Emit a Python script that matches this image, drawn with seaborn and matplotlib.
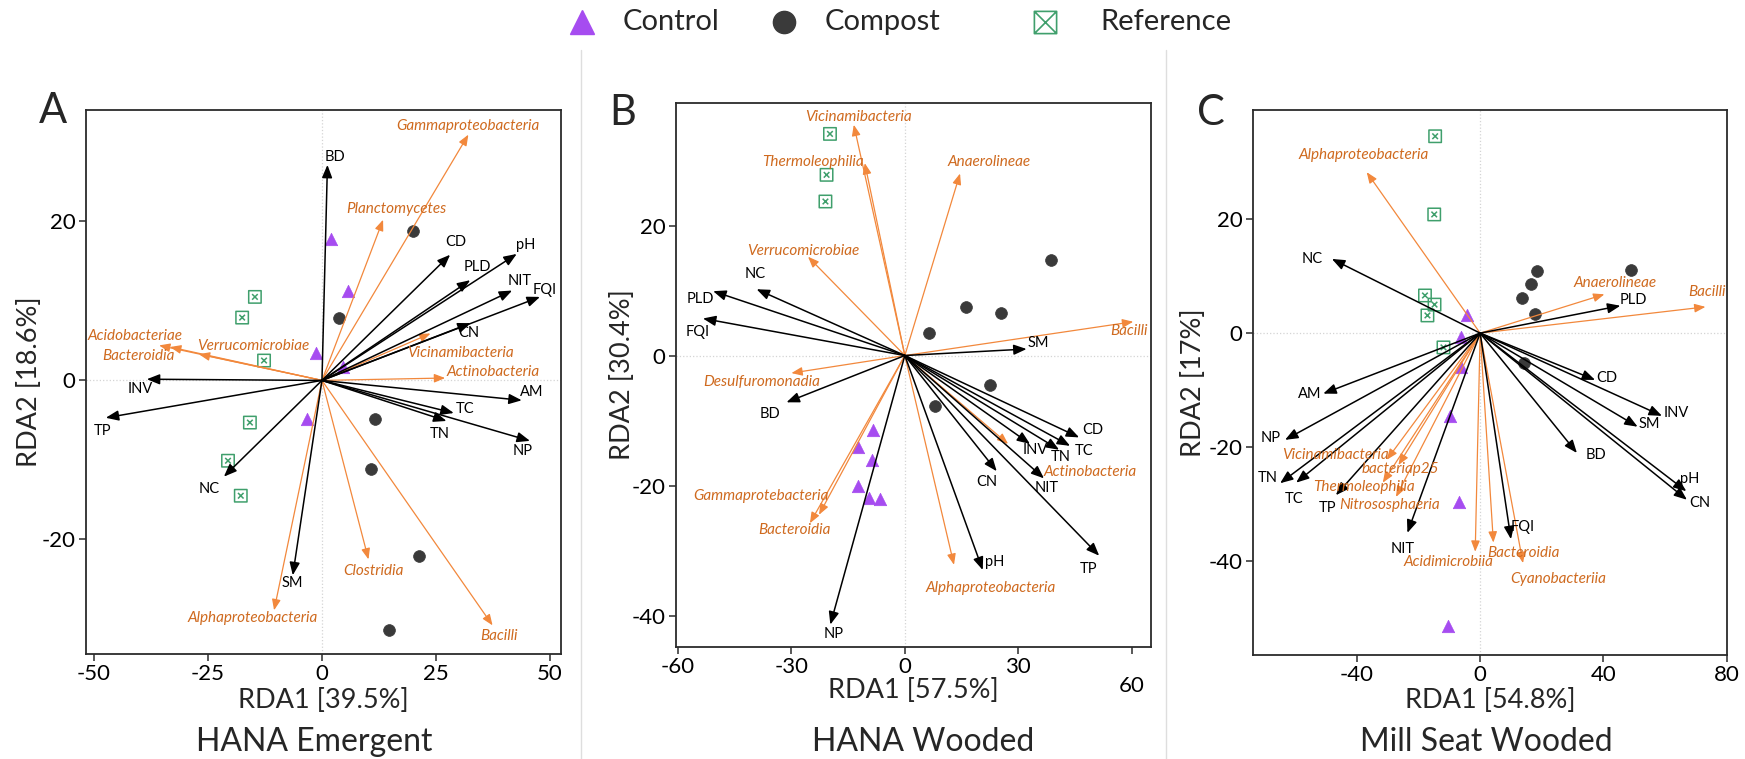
import numpy as np
import pandas as pd
import matplotlib
matplotlib.use("Agg")
import matplotlib.pyplot as plt
from matplotlib.path import Path
from matplotlib.lines import Line2D
import seaborn as sns

# ---------------- HANA Emergent ----------------
A_env = ["BD", "CD", "pH", "PLD", "NIT", "FQI", "CN", "AM", "TC", "TN", "NP", "INV", "TP", "NC", "SM"]
A_env_x = [1.2, 28.1, 42.7, 32.5, 41.7, 47.8, 32.6, 43.8, 28.9, 27.3, 45.6, -38.4, -47.4, -21.5, -6.4]
A_env_y = [27.1, 15.8, 15.9, 12.6, 11.3, 10.5, 7.2, -2.5, -4.1, -5.1, -7.6, 0.15, -4.7, -12.1, -24.5]
A_taxa = ["Gammaproteobacteria", "Planctomycetes", "Vicinamibacteria", "Actinobacteria",
          "Acidobacteriae", "Bacteroidia", "Verrucomicrobiae", "Alphaproteobacteria",
          "Clostridia", "Bacilli"]
A_taxa_x = [32.1, 13.4, 23.8, 27.0, -35.7, -33.3, -27.0, -10.5, 10.2, 37.4]
A_taxa_y = [30.9, 20.2, 5.9, 0.3, 4.4, 4.2, 3.3, -28.9, -22.5, -30.8]
A_site_group = ["Control"] * 5 + ["Compost"] * 6 + ["Reference"] * 6
A_site_x = [-1.2, -3.2, 2.0, 5.8, 4.7,
            20.0, 3.8, 11.6, 10.7, 21.2, 14.6,
            -14.7, -17.5, -12.7, -15.8, -20.6, -17.8]
A_site_y = [3.5, -4.8, 17.8, 11.3, 1.7,
            18.8, 7.9, -4.8, -11.2, -22.1, -31.4,
            10.5, 7.9, 2.5, -5.3, -10.1, -14.5]

# ---------------- HANA Wooded ----------------
B_env = ["PLD", "NC", "FQI", "BD", "NP", "SM", "CD", "TC", "TN", "INV", "NIT", "CN", "TP", "pH"]
B_env_x = [-50.7, -39.2, -53.4, -31.3, -19.7, 32.2, 46.1, 43.7, 40.8, 33.1, 36.8, 24.3, 51.4, 20.6]
B_env_y = [9.9, 10.2, 5.7, -7.2, -41.4, 1.0, -12.6, -13.9, -14.5, -13.6, -18.9, -17.8, -30.8, -33.0]
B_taxa = ["Vicinamibacteria", "Thermoleophilia", "Verrucomicrobiae", "Desulfuromonadia",
          "Anaerolineae", "Bacilli", "Gammaprotebacteria", "Bacteroidia",
          "Actinobacteria", "Alphaproteobacteria"]
B_taxa_x = [-13.5, -10.6, -25.6, -30.0, 14.6, 60.4, -22.7, -25.1, 27.3, 13.0]
B_taxa_y = [35.5, 29.6, 15.2, -2.7, 28.0, 5.2, -24.5, -25.8, -13.6, -32.2]
B_site_group = ["Control"] * 6 + ["Compost"] * 6 + ["Reference"] * 3
B_site_x = [-8.4, -12.5, -8.7, -12.5, -9.5, -6.6,
            38.6, 16.1, 25.3, 6.4, 22.5, 7.9,
            -19.8, -20.7, -21.0]
B_site_y = [-11.4, -14.0, -16.0, -20.0, -21.9, -22.1,
            14.7, 7.5, 6.6, 3.5, -4.5, -7.8,
            34.1, 27.8, 23.7]

# ---------------- Mill Seat Wooded ----------------
C_env = ["NC", "AM", "NP", "TN", "TC", "TP", "NIT", "FQI", "BD", "SM", "INV", "pH", "CN", "CD", "PLD"]
C_env_x = [-48.1, -50.9, -63.3, -64.9, -59.7, -46.8, -23.6, 10.0, 31.4, 51.1, 59.0, 66.9, 67.1, 37.3, 45.5]
C_env_y = [13.0, -10.6, -18.7, -26.3, -26.2, -28.4, -35.0, -36.1, -21.0, -16.4, -14.5, -27.7, -29.2, -8.2, 4.8]
C_taxa = ["Alphaproteobacteria", "Anaerolineae", "Bacilli", "Vicinamibacteria", "bacteriap25",
          "Thermoleophilia", "Nitrososphaeria", "Acidimicrobiia", "Bacteroidia", "Cyanobacteriia"]
C_taxa_x = [-36.8, 40.3, 73.1, -30.3, -26.5, -31.6, -27.3, -1.6, 4.3, 13.9]
C_taxa_y = [28.2, 6.8, 4.6, -22.2, -23.1, -26.2, -28.7, -38.3, -36.7, -40.3]
C_site_group = ["Control"] * 6 + ["Compost"] * 6 + ["Reference"] * 6
C_site_x = [-4.3, -6.2, -6.3, -9.7, -6.7, -10.3,
            18.4, 48.9, 16.5, 13.5, 17.9, 14.3,
            -14.6, -14.9, -17.9, -14.8, -17.1, -11.9]
C_site_y = [3.1, -0.75, -6.0, -14.5, -29.6, -51.4,
            10.9, 11.0, 8.6, 6.2, 3.4, -5.3,
            34.5, 20.8, 6.6, 5.0, 3.1, -2.5]

LEGEND_GROUPS = ["Control", "Compost", "Reference"]

# Label placement around arrow tips (pixel offsets, y up)
A_env_off = {"BD": (8, 8), "CD": (6, 13), "pH": (9, 9), "PLD": (7, 13), "NIT": (8, 10),
             "FQI": (5, 7), "CN": (-2, -10), "AM": (10, 8), "TC": (11, 4), "TN": (-7, -13),
             "NP": (-7, -10), "INV": (-7, -10), "TP": (-3, -13), "NC": (-15, -12), "SM": (0, -8)}
A_taxa_off = {"Gammaproteobacteria": (0, 9), "Planctomycetes": (13, 11), "Vicinamibacteria": (30, -20),
              "Actinobacteria": (48, 6), "Acidobacteriae": (-24, 9), "Bacteroidia": (-32, -9),
              "Verrucomicrobiae": (54, 8), "Alphaproteobacteria": (-21, -8), "Clostridia": (5, -12),
              "Bacilli": (6, -11)}
B_env_off = {"PLD": (-13, -8), "NC": (-1, 15), "FQI": (-5, -14), "BD": (-16, -12), "NP": (3, -9),
             "SM": (12, 6), "CD": (14, 7), "TC": (14, -5), "TN": (2, -7), "INV": (5, -6),
             "NIT": (3, -10), "CN": (-10, -11), "TP": (-11, -13), "pH": (12, 8)}
B_taxa_off = {"Vicinamibacteria": (5, 8), "Thermoleophilia": (-52, 1), "Verrucomicrobiae": (-5, 6),
              "Desulfuromonadia": (-30, -9), "Anaerolineae": (29, 12), "Bacilli": (-4, -9),
              "Gammaprotebacteria": (-58, 19), "Bacteroidia": (-15, -7), "Actinobacteria": (82, -28),
              "Alphaproteobacteria": (37, -23)}
C_env_off = {"NC": (-20, 0), "AM": (-14, 0), "NP": (-14, 2), "TN": (-12, 5), "TC": (-2, -16),
             "TP": (-8, -13), "NIT": (-5, -16), "FQI": (12, 12), "BD": (19, -2), "SM": (12, 3),
             "INV": (14, 3), "pH": (3, 12), "CN": (13, -3), "CD": (12, 2), "PLD": (13, 6)}
C_taxa_off = {"Alphaproteobacteria": (-3, 17), "Anaerolineae": (11, 11), "Bacilli": (2, 15),
              "Vicinamibacteria": (-51, 5), "bacteriap25": (2, -4), "Thermoleophilia": (-19, -4),
              "Nitrososphaeria": (-6, -8), "Acidimicrobiia": (-27, -10), "Bacteroidia": (30, -10),
              "Cyanobacteriia": (35, -16)}

PURPLE = "#a64cf0"
DARK = "#3a3a3a"
GREEN = "#3f9f6c"
ORANGE_LINE = "#f2883c"
ORANGE_TEXT = "#cf6a1f"
ZERO = "#d4d4d4"
SPINE = "#2b2b2b"

sns.set_theme(style="ticks")
plt.rcParams["font.family"] = ["Lato", "DejaVu Sans"]


def boxed_x(inner):
    verts = [(-1, -1), (1, -1), (1, 1), (-1, 1), (-1, -1),
             (-inner, -inner), (inner, inner), (-inner, inner), (inner, -inner)]
    codes = [Path.MOVETO, Path.LINETO, Path.LINETO, Path.LINETO, Path.CLOSEPOLY,
             Path.MOVETO, Path.LINETO, Path.MOVETO, Path.LINETO]
    return Path(verts, codes)


SITE_STYLE = {
    "Control": dict(marker="^", s=80, color=PURPLE, edgecolor=PURPLE, linewidth=0.5),
    "Compost": dict(marker="o", s=72, color=DARK, edgecolor=DARK, linewidth=0.5),
    "Reference": dict(marker=boxed_x(0.45), s=80, color=GREEN, facecolors="none",
                      edgecolor=GREEN, linewidth=1.1),
}

fig = plt.figure(figsize=(17.45, 7.59), dpi=100)
W, H = 1745.0, 759.0


def px_axes(left, top, right, bottom):
    return fig.add_axes([left / W, 1 - bottom / H, (right - left) / W, (bottom - top) / H])


def draw_panel(ax, sx, sy, sg, env, ex, ey, eoff, taxa, tx, ty, toff,
               xlim, ylim, xticks, yticks, xlabel, ylabel, ylab_x, xlab_y):
    ax.axhline(0, color=ZERO, lw=0.9, ls=":", zorder=0)
    ax.axvline(0, color=ZERO, lw=0.9, ls=":", zorder=0)

    sites = pd.DataFrame({"RDA1": sx, "RDA2": sy, "Treatment": sg})
    for grp, st in SITE_STYLE.items():
        sub = sites[sites["Treatment"] == grp]
        if len(sub):
            sns.scatterplot(data=sub, x="RDA1", y="RDA2", ax=ax, legend=False, zorder=2, **st)

    for name, x, y in zip(taxa, tx, ty):
        ax.annotate("", xy=(x, y), xytext=(0, 0),
                    arrowprops=dict(arrowstyle="-|>,head_length=0.5,head_width=0.2",
                                    color=ORANGE_LINE, lw=0.9, shrinkA=0, shrinkB=0,
                                    mutation_scale=13), zorder=3)
    for name, x, y in zip(env, ex, ey):
        ax.annotate("", xy=(x, y), xytext=(0, 0),
                    arrowprops=dict(arrowstyle="-|>,head_length=0.55,head_width=0.22",
                                    color="black", lw=1.1, shrinkA=0, shrinkB=0,
                                    mutation_scale=14), zorder=4)
    for name, x, y in zip(taxa, tx, ty):
        ax.annotate(name, xy=(x, y), xytext=toff[name], textcoords="offset pixels",
                    ha="center", va="center", fontsize=11, style="italic",
                    color=ORANGE_TEXT, zorder=5)
    for name, x, y in zip(env, ex, ey):
        ax.annotate(name, xy=(x, y), xytext=eoff[name], textcoords="offset pixels",
                    ha="center", va="center", fontsize=10.5, color="black", zorder=5)

    ax.set_xlim(*xlim)
    ax.set_ylim(*ylim)
    ax.set_xticks(xticks)
    ax.set_yticks(yticks)
    ax.set_xticklabels([str(t) for t in xticks])
    ax.set_yticklabels([str(t) for t in yticks])
    ax.tick_params(axis="both", labelsize=16, length=5, width=1.1, color=SPINE, pad=2.5,
                   labelcolor="black")
    for sp in ax.spines.values():
        sp.set_color(SPINE)
        sp.set_linewidth(1.3)
    ax.set_xlabel(xlabel, fontsize=19.5)
    ax.set_ylabel(ylabel, fontsize=19.5)
    ax.yaxis.set_label_coords(ylab_x, 0.5)
    ax.xaxis.set_label_coords(0.5, xlab_y)


axA = px_axes(85.7, 110, 560.5, 654)
draw_panel(axA, A_site_x, A_site_y, A_site_group, A_env, A_env_x, A_env_y, A_env_off,
           A_taxa, A_taxa_x, A_taxa_y, A_taxa_off,
           (-51.8, 52.3), (-34.4, 34.0), [-50, -25, 0, 25, 50], [-20, 0, 20],
           "RDA1 [39.5%]", "RDA2 [18.6%]", -0.092, -0.063)

axB = px_axes(675.7, 102.7, 1151, 646.7)
draw_panel(axB, B_site_x, B_site_y, B_site_group, B_env, B_env_x, B_env_y, B_env_off,
           B_taxa, B_taxa_x, B_taxa_y, B_taxa_off,
           (-60.6, 65.1), (-44.8, 38.9), [-60, -30, 0, 30, 60], [-40, -20, 0, 20],
           "RDA1 [57.5%]", "RDA2 [30.4%]", -0.086, -0.057)
# the last x tick label of this panel sits lower than the others
axB.xaxis.get_major_ticks()[-1].set_pad(16)

axC = px_axes(1253, 110, 1726.7, 655)
draw_panel(axC, C_site_x, C_site_y, C_site_group, C_env, C_env_x, C_env_y, C_env_off,
           C_taxa, C_taxa_x, C_taxa_y, C_taxa_off,
           (-73.7, 80), (-56.4, 39.1), [-40, 0, 40, 80], [-40, -20, 0, 20],
           "RDA1 [54.8%]", "RDA2 [17%]", -0.100, -0.060)

# panel letters and site titles
for letter, cx, base in [("A", 53.3, 123.3), ("B", 622.5, 125), ("C", 1210.5, 125)]:
    fig.text(cx / W, 1 - base / H, letter, fontsize=30, ha="center", va="baseline")
for title, cx in [("HANA Emergent", 314), ("HANA Wooded", 923), ("Mill Seat Wooded", 1486.7)]:
    fig.text(cx / W, 1 - 751 / H, title, fontsize=23, ha="center", va="baseline")

# thin separators between panels
for xs in (581, 1166):
    fig.add_artist(Line2D([xs / W, xs / W], [0, 1 - 50 / H], transform=fig.transFigure,
                          color="#dedede", lw=1.0))

# shared key across the top: marker then label for each treatment
key_markers = [
    dict(marker="^", color=PURPLE, markersize=17),
    dict(marker="o", color=DARK, markersize=16),
    dict(marker=boxed_x(1.0), markerfacecolor="none", markeredgecolor=GREEN,
         markeredgewidth=1.2, markersize=16),
]
key_marker_x = [582, 783.5, 1045]
key_text_x = [623, 825, 1100]
key_y = 1 - 22 / H
for grp, mk, mx, tx in zip(LEGEND_GROUPS, key_markers, key_marker_x, key_text_x):
    fig.add_artist(Line2D([mx / W], [key_y], transform=fig.transFigure, linestyle="none", **mk))
    fig.text(tx / W, key_y, grp, fontsize=21, ha="left", va="center")

fig.savefig("out.png", dpi=100)
